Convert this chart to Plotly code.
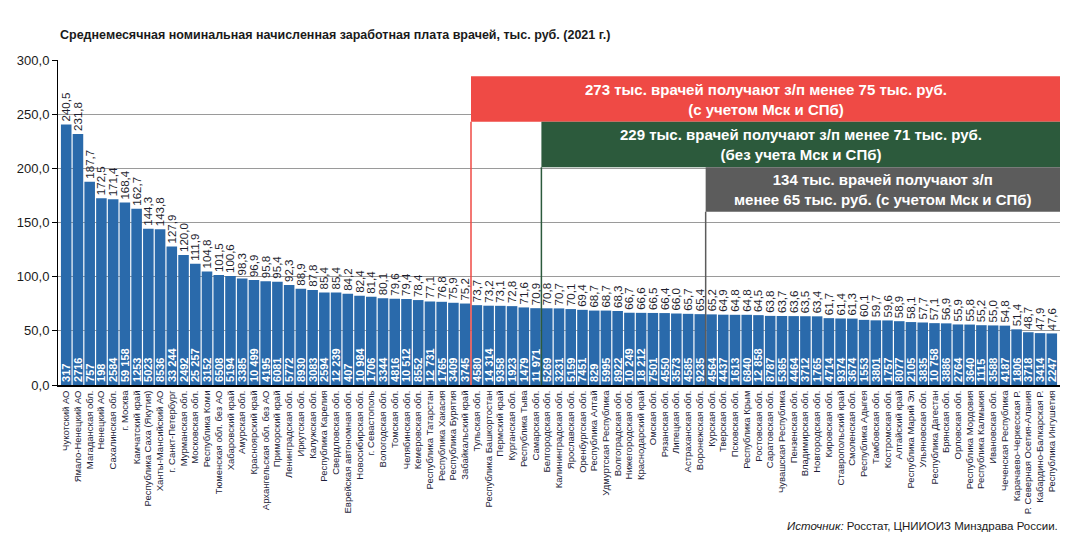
import plotly.graph_objects as go

regions = [
    "Чукотский АО", "Ямало-Ненецкий АО", "Магаданская обл.", "Ненецкий АО", "Сахалинская обл.",
    "г. Москва", "Камчатский край", "Республика Саха (Якутия)", "Ханты-Мансийский АО", "г. Санкт-Петербург",
    "Мурманская обл.", "Московская обл.", "Республика Коми", "Тюменская обл. без АО", "Хабаровский край",
    "Амурская обл.", "Красноярский край", "Архангельская обл. без АО", "Приморский край", "Ленинградская обл.",
    "Иркутская обл.", "Калужская обл.", "Республика Карелия", "Свердловская обл.", "Еврейская автономная обл.",
    "Новосибирская обл.", "г. Севастополь", "Вологодская обл.", "Томская обл.", "Челябинская обл.",
    "Кемеровская обл.", "Республика Татарстан", "Республика Хакасия", "Республика Бурятия", "Забайкальский край",
    "Тульская обл.", "Республика Башкортостан", "Пермский край", "Курганская обл.", "Республика Тыва",
    "Самарская обл.", "Белгородская обл.", "Калининградская обл.", "Ярославская обл.", "Оренбургская обл.",
    "Республика Алтай", "Удмуртская Республика", "Волгоградская обл.", "Нижегородская обл.", "Краснодарский край",
    "Омская обл.", "Рязанская обл.", "Липецкая обл.", "Астраханская обл.", "Воронежская обл.",
    "Курская обл.", "Тверская обл.", "Псковская обл.", "Республика Крым", "Ростовская обл.",
    "Саратовская обл.", "Чувашская Республика", "Пензенская обл.", "Владимирская обл.", "Новгородская обл.",
    "Кировская обл.", "Ставропольский край", "Смоленская обл.", "Республика Адыгея", "Тамбовская обл.",
    "Костромская обл.", "Алтайский край", "Республика Марий Эл", "Ульяновская обл.", "Республика Дагестан",
    "Брянская обл.", "Орловская обл.", "Республика Мордовия", "Республика Калмыкия", "Ивановская обл.",
    "Чеченская Республика", "Карачаево-Черкесская Р.", "Р. Северная Осетия-Алания", "Кабардино-Балкарская Р.", "Республика Ингушетия",
]

salary = [
    240.5, 231.8, 187.7, 172.5, 171.4, 168.4, 162.7, 144.3, 143.8, 127.9,
    120.0, 111.9, 104.8, 101.5, 100.6, 98.3, 96.9, 95.8, 95.4, 92.3,
    88.9, 87.8, 85.4, 85.4, 84.2, 82.4, 81.4, 80.1, 79.6, 79.4,
    78.4, 77.1, 76.8, 75.9, 75.2, 73.7, 73.2, 73.1, 72.8, 71.6,
    70.9, 70.8, 70.7, 70.1, 69.4, 68.7, 68.7, 68.3, 66.7, 66.6,
    66.5, 66.4, 66.0, 65.7, 65.4, 65.2, 64.9, 64.8, 64.8, 64.5,
    63.8, 63.7, 63.6, 63.5, 63.4, 61.7, 61.4, 61.3, 60.1, 59.7,
    59.6, 58.9, 58.1, 57.7, 57.1, 56.9, 55.9, 55.8, 55.2, 55.0,
    54.8, 51.4, 48.7, 47.9, 47.6,
]

doctors = [
    317, 2716, 757, 198, 2584, 59158, 1253, 5023, 8536, 33244,
    2492, 25257, 3152, 6508, 5194, 3385, 10499, 4195, 6081, 5772,
    8930, 3083, 2594, 12239, 407, 10984, 1706, 3344, 4816, 10512,
    8552, 12731, 1765, 3409, 3745, 4580, 14314, 9358, 1923, 1479,
    11971, 5269, 3231, 5159, 7451, 829, 5995, 8922, 10249, 18212,
    7501, 4550, 3573, 4585, 9235, 4564, 4437, 1613, 6840, 12858,
    8787, 5365, 4464, 3712, 1765, 4714, 9374, 3674, 1553, 3801,
    1757, 8077, 2105, 3835, 10758, 3886, 2764, 3640, 1115, 3588,
    4187, 1806, 3718, 3414, 2247,
]

y_ticks = [0, 50, 100, 150, 200, 250, 300]

# threshold boxes
box_texts = [
    "273 тыс. врачей получают з/п менее 75 тыс. руб.<br>(с учетом Мск и СПб)",
    "229 тыс. врачей получают з/п менее 71 тыс. руб.<br>(без учета Мск и СПб)",
    "134 тыс. врачей получают з/п<br>менее 65 тыс. руб. (с учетом Мск и СПб)",
]
box_split_after = [34, 40, 54]
box_y_low = [243, 201, 160]
box_y_high = [285, 243, 201]
box_colors = ["#ef4a45", "#2c5a3c", "#5c5c5c"]

FONT = "Liberation Sans, Arial, sans-serif"
BAR_COLOR = "#2a6aab"

x_idx = list(range(len(regions)))
val_txt = [f"{v:.1f}".replace(".", ",") for v in salary]
cnt_txt = [f"{n:,}".replace(",", " ") if n >= 10000 else str(n) for n in doctors]

fig = go.Figure()
fig.add_trace(go.Bar(
    x=x_idx, y=salary, marker=dict(color=BAR_COLOR, line=dict(width=0)),
    text=[f"<b>{t}</b>" for t in cnt_txt], textposition="inside", insidetextanchor="start", textangle=-90,
    insidetextfont=dict(family=FONT, size=11, color="white"),
    constraintext="none", hoverinfo="skip",
))
fig.add_trace(go.Bar(
    x=x_idx, y=salary, marker=dict(color="rgba(0,0,0,0)", line=dict(width=0)),
    text=val_txt, textposition="outside", textangle=-90,
    outsidetextfont=dict(family=FONT, size=11.5, color="#1e1e2e"),
    constraintext="none", cliponaxis=False, hoverinfo="skip",
))

x_right = len(regions) - 0.3
for txt, k, ylo, yhi, col in zip(box_texts, box_split_after, box_y_low, box_y_high, box_colors):
    xs = k + 0.5
    fig.add_shape(type="rect", xref="x", yref="y", x0=xs, x1=x_right, y0=ylo, y1=yhi,
                  fillcolor=col, line=dict(width=0), layer="above")
    fig.add_shape(type="line", xref="x", yref="y", x0=xs, x1=xs, y0=0, y1=ylo,
                  line=dict(color=col, width=1.5), layer="above")
    fig.add_annotation(x=(xs + x_right) / 2, y=(ylo + yhi) / 2, xref="x", yref="y",
                       text=f"<b>{txt}</b>", showarrow=False,
                       font=dict(family=FONT, size=15, color="white"), align="center")

fig.add_annotation(
    x=0, y=1, xref="paper", yref="paper", xanchor="left", yanchor="bottom", yshift=16,
    text="<b>Среднемесячная номинальная начисленная заработная плата врачей, тыс. руб. (2021 г.)</b>",
    showarrow=False, font=dict(family=FONT, size=12.5, color="#1a1a1a"),
)
fig.add_annotation(
    x=1, y=0, xref="paper", yref="paper", xanchor="right", yanchor="top", yshift=-133,
    text="<i>Источник:</i> Росстат, ЦНИИОИЗ Минздрава России.",
    showarrow=False, font=dict(family=FONT, size=11.5, color="#1a1a1a"),
)

# page body has an 8px margin, so the figure is drawn offset by (8, 8)
fig.update_layout(
    width=1061, height=544,
    margin=dict(l=50, r=9, t=52, b=167, autoexpand=False),
    barmode="overlay", bargap=0.1, showlegend=False,
    plot_bgcolor="white", paper_bgcolor="white",
    separators=", ",
    font=dict(family=FONT, color="#1a1a1a"),
)
fig.update_xaxes(
    range=[-0.7, x_right], tickmode="array", tickvals=x_idx, ticktext=regions,
    tickangle=-90, tickfont=dict(family=FONT, size=9.5, color="#1e1e3a"), automargin=False,
    showline=True, linecolor="black", linewidth=1.5, ticks="", showgrid=False,
)
fig.update_yaxes(
    range=[0, 300], tickvals=y_ticks, tickformat=".1f", automargin=False,
    tickfont=dict(family=FONT, size=13, color="#1a1a1a"),
    showline=True, linecolor="black", linewidth=1, ticks="outside", ticklen=5, tickcolor="black",
    showgrid=True, gridcolor="#9a9a9a", gridwidth=1, zeroline=False,
)

fig.write_html("out.html")
